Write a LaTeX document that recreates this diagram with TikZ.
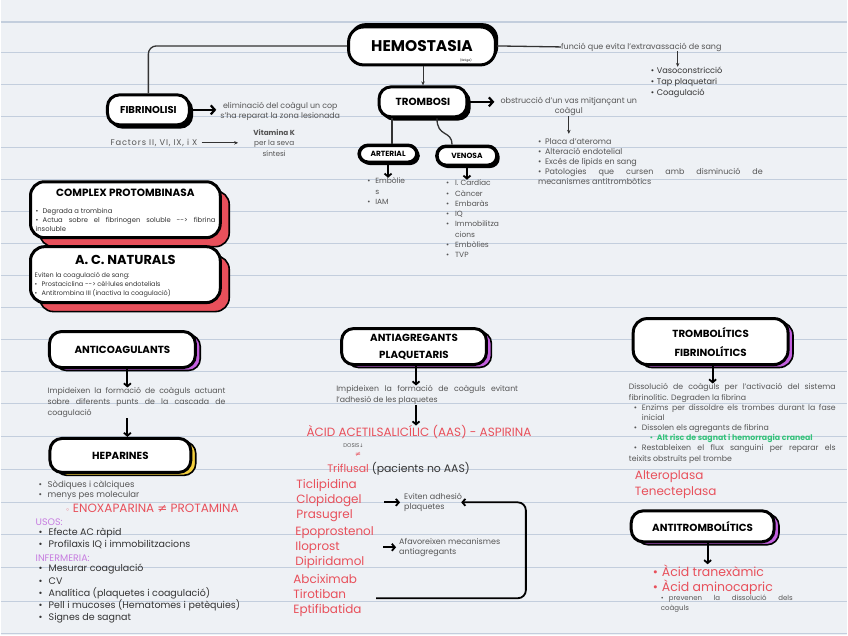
\documentclass[tikz,border=0pt]{standalone}
\usepackage{fontspec}
\setmainfont{Poppins}
\newfontfamily\dv{DejaVu Sans}
\newfontfamily\wide{Poppins}[LetterSpace=10]
\usetikzlibrary{shadows,arrows.meta}
\definecolor{bgc}{HTML}{EEF1F5}
\definecolor{rulec}{HTML}{C3CEDD}
\definecolor{redc}{HTML}{E8505B}
\definecolor{purc}{HTML}{C25FDE}
\definecolor{yelc}{HTML}{F3CF3E}
\definecolor{greenc}{HTML}{33C27A}
\definecolor{greyc}{HTML}{555555}
\definecolor{darkc}{HTML}{333333}
\definecolor{usosc}{HTML}{C77DE0}
\newcommand\fs[2]{\fontsize{#1pt}{#2pt}\selectfont}
\newcommand\bi[1][7pt]{\makebox[#1][l]{\textbullet}}
\newcommand\hb[2]{\par\noindent\hangindent=#1pt\hangafter=1\makebox[#1pt][l]{\textbullet}#2}
\begin{document}
\begin{tikzpicture}[x=1pt,y=-1pt,
  pill/.style={draw=black, line width=3pt, fill=white, rounded corners=12pt, inner sep=0pt},
  sh/.style n args={3}{general shadow={fill=#1, draw=black, line width=1.6pt, shadow xshift=#2, shadow yshift=#3}},
  conn/.style={line width=1.3pt, darkc},
  thinarr/.style={line width=0.9pt, darkc, -{Stealth[length=4pt,width=3.5pt]}},
  thickarr/.style={line width=2.2pt, black, -{Straight Barb[length=4pt,width=9pt,line width=2.2pt]}},
  downarr/.style={line width=1.8pt, black, -{Straight Barb[length=3pt,width=7pt,line width=1.8pt]}},
  gtext/.style={text=greyc, inner sep=0pt},
  ttl/.style={font=\fs{10.3}{12}\bfseries, text=black}
]
\fill[bgc] (0,0) rectangle (848,636);
\foreach \yy in {22,53,85,117,148,180,212,244,276,308,340,372,404,437,470,503,535,568,602,634}
  {\draw[rulec, line width=1.1pt] (0,\yy) -- (848,\yy);}
\useasboundingbox (0,0) rectangle (848,636);

% ---------- HEMOSTASIA ----------
\node[pill, sh={black}{2pt}{3pt}, minimum width=147pt, minimum height=38pt, rounded corners=15pt, font=\fs{15.5}{18}\bfseries] (hemo) at (422,46) {HEMOSTASIA};
\node[font=\fs{3}{4}, inner sep=0pt] (fatiga) at (466,61) {(fatiga)};
\node[gtext, anchor=west, font=\fs{8}{9}] (funcio) at (561,47) {funció que evita l'extravassació de sang};
\draw[conn] (hemo.east) -- (funcio.west);
\node[anchor=north west, align=left, font=\fs{8.2}{11}, text=darkc, inner sep=0pt] (vaso) at (651,67) {\bi[6pt]Vasoconstricció\\\bi[6pt]Tap plaquetari\\\bi[6pt]Coagulació};
\coordinate (va) at (678,0);
\draw[thinarr] (funcio.south -| va) -- (vaso.north -| va);

% ---------- FIBRINOLISI ----------
\node[pill, sh={black}{3pt}{-3pt}, minimum width=82pt, minimum height=30pt, font=\fs{10}{12}\bfseries] (fibr) at (148,110) {FIBRINOLISI};
\draw[conn, rounded corners=8pt] (hemo.west) -| (fibr.north);
\node[gtext, anchor=west, align=center, font=\fs{7.9}{10}] (elim) at (220,112) {eliminació del coàgul un cop\\s'ha reparat la zona lesionada};
\draw[thickarr, shorten >=4pt] (fibr.east) -- (fibr.east -| elim.west);
\node[gtext, anchor=west, font=\wide\fs{8.3}{9}] (factors) at (110,143) {Factors II, VI, IX, i X};
\node[gtext, align=center, font=\fs{7.3}{10.5}] (vitk) at (274,143) {{\bfseries Vitamina K}\\per la seva\\síntesi};
\draw[thinarr, shorten <=4pt, shorten >=15pt] (factors.east) -- (vitk.west);

% ---------- TROMBOSI ----------
\node[pill, sh={black}{3pt}{-3pt}, minimum width=88pt, minimum height=30pt, font=\fs{10.3}{12}\bfseries] (tromb) at (423,102) {TROMBOSI};
\draw[thinarr] (tromb.north |- hemo.south) -- (tromb.north);
\node[gtext, anchor=north, align=center, font=\fs{8}{10.3}] (obstruc) at (569,97) {obstrucció d'un vas mitjançant un\\coàgul};
\draw[thickarr, shorten >=6pt] (tromb.east) -- (tromb.east -| obstruc.west);
\node[gtext, anchor=north west, text width=225pt, align=justify, font=\fs{8}{10.2}] (patol) at (538,134)
 {\hb{7}{Placa d'ateroma}\hb{7}{Alteració endotelial}\hb{7}{Excés de lípids en sang}\hb{7}{Patologies que cursen amb disminució de\linebreak mecanismes antitrombòtics}};
\draw[thinarr] (obstruc.south) -- (obstruc.south |- patol.north);

\node[pill, line width=3.5pt, rounded corners=9pt, sh={black}{2pt}{-2pt}, minimum width=58pt, minimum height=17pt, font=\fs{7.5}{8}\bfseries] (arterial) at (388,154) {ARTERIAL};
\node[pill, line width=3.5pt, rounded corners=9pt, sh={black}{2pt}{-2pt}, minimum width=60pt, minimum height=19pt, font=\fs{7.5}{8}\bfseries] (venosa) at (467,156) {VENOSA};
\draw[conn] ([xshift=-31pt]tromb.south) -- ([xshift=4pt]arterial.north);
\draw[conn] ([xshift=14pt]tromb.south) .. controls (437,138) and (452,130) .. ([xshift=-15pt]venosa.north);
\node[gtext, anchor=north west, align=left, font=\fs{7.5}{10.3}] (artlist) at (367,178) {\bi[8pt]Embòlie\\\hspace*{8pt}s\\\bi[8pt]IAM};
\node[gtext, anchor=north west, align=left, font=\fs{7.5}{10.3}] (venlist) at (446,180) {\bi[9pt]I. Cardíac\\\bi[9pt]Càncer\\\bi[9pt]Embaràs\\\bi[9pt]IQ\\\bi[9pt]Immobilitza\\\hspace*{9pt}cions\\\bi[9pt]Embòlies\\\bi[9pt]TVP};
\draw[downarr] (arterial.south) -- (arterial.south |- artlist.north);
\draw[downarr] (venosa.south) -- (venosa.south |- venlist.north);

% ---------- COMPLEX / A.C. NATURALS ----------
\node[pill, sh={redc}{9pt}{-9pt}, minimum width=190pt, minimum height=56pt, rounded corners=14pt] (complex) at (125,210) {};
\node[ttl, font=\fs{10.5}{12}\bfseries] (complexT) at (125,193) {COMPLEX PROTOMBINASA};
\node[anchor=north west, text width=180pt, align=justify, font=\fs{6.8}{9}, text=darkc, inner sep=0pt] (complexC) at (35,208)
 {\noindent\bi[7pt]Degrada a trombina\par\noindent\bi[7pt]Actua sobre el fibrinogen soluble {-}{-}> fibrina\linebreak insoluble};
\node[pill, sh={redc}{9pt}{-9pt}, minimum width=190pt, minimum height=56pt, rounded corners=14pt] (acnat) at (125,275) {};
\node[ttl, font=\fs{13}{14}\bfseries] (acnatT) at (125,260) {A. C. NATURALS};
\node[anchor=north west, align=left, font=\fs{6.5}{9}, text=darkc, inner sep=0pt] (acnatC) at (34,273)
 {Eviten la coagulació de sang:\\\bi[7pt]Prostaciclina {-}{-}> cèl·lules endotelials\\\bi[7pt]Antitrombina III (inactiva la coagulació)};

% ---------- ANTICOAGULANTS ----------
\node[pill, sh={purc}{5pt}{-3pt}, minimum width=146pt, minimum height=36pt, font=\fs{10.3}{12}\bfseries] (anticoag) at (122,350) {ANTICOAGULANTS};
\node[gtext, anchor=north west, text width=178pt, align=justify, font=\fs{7.8}{11}] (impid) at (47,388)
 {Impideixen la formació de coàguls actuant\linebreak sobre diferents punts de la cascada de\linebreak coagulació};
\coordinate (ax1) at (127,0);
\draw[downarr] (anticoag.south -| ax1) -- (impid.north -| ax1);
\node[pill, sh={yelc}{5pt}{-3pt}, minimum width=141pt, minimum height=34pt, font=\fs{10.3}{12}\bfseries] (hepar) at (120,456) {HEPARINES};
\draw[downarr] (impid.south -| ax1) -- (hepar.north -| ax1);
\node[gtext, anchor=north west, align=left, font=\fs{8.5}{10}] (hep1) at (38,481) {\bi[9pt]Sòdiques i càlciques\\\bi[9pt]menys pes molecular};
\node[anchor=west, font=\fs{12}{13}, text=redc, inner sep=0pt] (enox) at (65,509) {{\dv\fs{7}{8}◦}\ ENOXAPARINA {\dv ≠} PROTAMINA};
\node[anchor=west, font=\fs{9.5}{10}, text=usosc, inner sep=0pt] (usos) at (35,523) {USOS:};
\node[anchor=north west, align=left, font=\fs{9.5}{12}, text=darkc, inner sep=0pt] (usoslist) at (38,529) {\bi[10pt]Efecte AC ràpid\\\bi[10pt]Profilaxis IQ i immobilitzacions};
\node[anchor=west, font=\fs{9.5}{10}, text=usosc, inner sep=0pt] (inf) at (35,559) {INFERMERIA:};
\node[anchor=north west, align=left, font=\fs{9.5}{12.2}, text=darkc, inner sep=0pt] (inflist) at (38,565) {\bi[10pt]Mesurar coagulació\\\bi[10pt]CV\\\bi[10pt]Analítica (plaquetes i coagulació)\\\bi[10pt]Pell i mucoses (Hematomes i petèquies)\\\bi[10pt]Signes de sagnat};

% ---------- ANTIAGREGANTS ----------
\node[pill, sh={purc}{5pt}{-3pt}, minimum width=145pt, minimum height=36pt, align=center, font=\fs{10.3}{17}\bfseries] (antiag) at (414,347) {ANTIAGREGANTS\\PLAQUETARIS};
\node[gtext, anchor=north west, text width=182pt, align=justify, font=\fs{7.8}{11}] (impid2) at (336,386)
 {Impideixen la formació de coàguls evitant\linebreak l'adhesió de les plaquetes};
\coordinate (ax2) at (416,0);
\draw[downarr] (antiag.south -| ax2) -- (impid2.north -| ax2);
\node[font=\fs{12}{13}, text=redc, inner sep=0pt] (aas) at (419,433) {ÀCID ACETILSALICÍLIC (AAS) - ASPIRINA};
\draw[downarr] (impid2.south -| ax2) -- (aas.north -| ax2);
\node[anchor=west, font=\fs{5.5}{6}, text=greyc, inner sep=0pt] (dosis) at (343,446) {DOSIS{\dv\fs{5}{6}↓}};
\node[font=\fs{7}{8}, text=redc, inner sep=0pt] (neq) at (358,455) {\dv ≠};
\node[anchor=west, font=\fs{10.9}{13}, text=darkc, inner sep=0pt] (trif) at (327,469) {\textcolor{redc}{Triflusal} (pacients no AAS)};
\node[anchor=north west, align=left, font=\fs{12}{15}, text=redc, inner sep=0pt] (g1) at (296,480) {Ticlipidina\\Clopidogel\\Prasugrel};
\node[anchor=north west, align=left, font=\fs{12}{15}, text=redc, inner sep=0pt] (g2) at (295,527) {Epoprostenol\\Iloprost\\Dipiridamol};
\node[anchor=north west, align=left, font=\fs{12}{15}, text=redc, inner sep=0pt] (g3) at (293,575) {Abciximab\\Tirotiban\\Eptifibatida};
\node[gtext, anchor=west, align=left, font=\fs{8}{10.5}] (ev) at (404,503) {Eviten adhesió\\plaquetes};
\node[gtext, anchor=west, align=left, font=\fs{8}{10.5}] (afav) at (399,548) {Afavoreixen mecanismes\\antiagregants};
\coordinate (a1) at (384,503);
\coordinate (a2) at (383,548);
\draw[downarr, shorten >=4pt] (a1) -- (ev.west |- a1);
\draw[downarr, shorten >=3pt] (a2) -- (afav.west |- a2);
\coordinate (lp) at (376,599);
\coordinate (lc) at (526,503);
\draw[line width=1.8pt, black, rounded corners=8pt, -{Straight Barb[length=3pt,width=7pt,line width=1.8pt]}] (lp) -| (lc) -- ([xshift=-1pt]ev.east |- lc);

% ---------- TROMBOLITICS ----------
\node[pill, sh={purc}{5pt}{-3pt}, minimum width=155pt, minimum height=46pt, rounded corners=14pt, align=center, font=\fs{10.3}{19}\bfseries] (trombol) at (711,342) {TROMBOLÍTICS\\FIBRINOLÍTICS};
\node[gtext, anchor=north west, text width=207pt, align=justify, font=\fs{7.8}{10.2}] (diss) at (629,384)
 {\noindent Dissolució de coàguls per l'activació del sistema\linebreak fibrinolític. Degraden la fibrina
 \par\noindent\hangindent=13pt\hangafter=1\hspace*{5pt}\makebox[8pt][l]{\textbullet}Enzims per dissoldre els trombes durant la fase\linebreak inicial
 \par\noindent\hspace*{5pt}\makebox[8pt][l]{\textbullet}Dissolen els agregants de fibrina
 \par\noindent\hspace*{21pt}\textcolor{greenc}{\makebox[7pt][l]{\textbullet}\bfseries Alt risc de sagnat i hemorragia craneal}
 \par\noindent\hangindent=13pt\hangafter=1\hspace*{5pt}\makebox[8pt][l]{\textbullet}Restableixen el flux sanguini per reparar els\linebreak teixits obstruïts pel trombe};
\coordinate (ax3) at (713,0);
\draw[downarr] (trombol.south -| ax3) -- (diss.north -| ax3);
\node[anchor=north west, align=left, font=\fs{12}{16}, text=redc, inner sep=0pt] (altero) at (635,471) {Alteroplasa\\Tenecteplasa};

% ---------- ANTITROMBOLITICS ----------
\node[pill, sh={purc}{5pt}{-3pt}, minimum width=143pt, minimum height=31pt, font=\fs{10.3}{12}\bfseries] (antitromb) at (703,527) {ANTITROMBOLÍTICS};
\node[anchor=north west, align=left, font=\fs{12.5}{15}, text=redc, inner sep=0pt] (acids) at (653,565) {\bi[9pt]Àcid tranexàmic\\\bi[9pt]Àcid aminocapric};
\coordinate (ax4) at (708,0);
\draw[downarr] (antitromb.south -| ax4) -- (acids.north -| ax4);
\node[gtext, anchor=north west, text width=132pt, align=justify, font=\fs{7}{10}] (prev) at (661,596)
 {\noindent\hangindent=8pt\hangafter=1\makebox[8pt][l]{\textbullet}prevenen la dissolució dels\linebreak coàguls};
\end{tikzpicture}
\end{document}
